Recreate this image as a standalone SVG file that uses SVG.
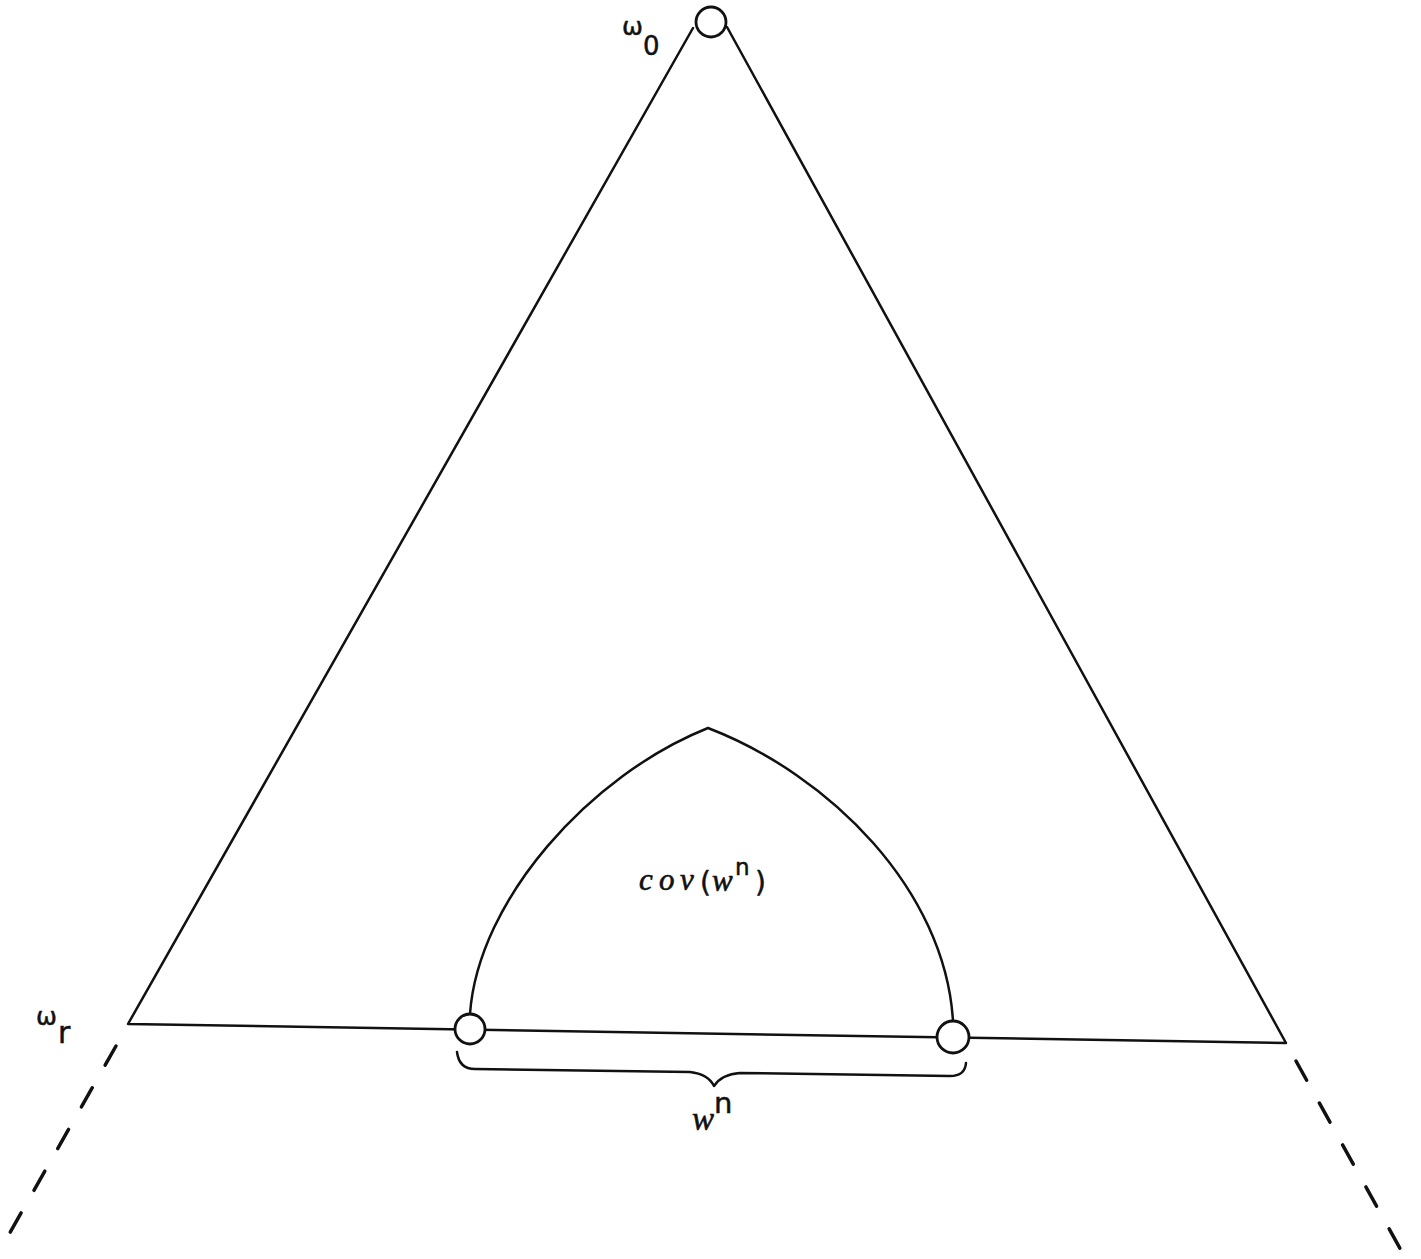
<svg xmlns="http://www.w3.org/2000/svg" width="1421" height="1259" viewBox="0 0 1421 1259">
<style>
.ln{fill:none;stroke:#111;stroke-width:2.5;stroke-linecap:round;stroke-linejoin:round}
.dash{fill:none;stroke:#111;stroke-width:3.5;stroke-dasharray:22 26;stroke-linecap:round}
.nd{fill:#fff;stroke:#111;stroke-width:2.8}
.sans{font-family:"DejaVu Sans","Liberation Sans",sans-serif;fill:#111;stroke:#111;stroke-width:0.5}
.it{font-family:"Liberation Serif",serif;font-style:italic;fill:#111;stroke:#111;stroke-width:0.6}
</style>
<rect width="1421" height="1259" fill="#fff"/>
<g id="connectors">
<path class="ln" d="M693,28 L128,1024 L1286,1043 L727,27"/>
<path class="dash" d="M116,1046 L8,1236"/>
<path class="dash" d="M1296,1061 L1402,1252"/>
<path class="ln" d="M470,1014 C478,900 590,775 708,728 C830,775 945,890 953,1021"/>
<path class="ln" d="M457,1052 Q459,1069 475,1069 L690,1072 Q708,1074 714,1086 Q722,1074 740,1073 L950,1076 Q965,1076 966,1063"/>
</g>
<g id="node-w0">
<circle class="nd" cx="711" cy="22" r="15"/>
<text class="sans" x="622" y="35" font-size="25">ω</text>
<text class="sans" x="643" y="55" font-size="26">0</text>
</g>
<g id="node-wr">
<text class="sans" x="36" y="1025" font-size="25">ω</text>
<text class="sans" x="58" y="1043" font-size="30">r</text>
</g>
<g id="node-left">
<circle class="nd" cx="470" cy="1029" r="15"/>
</g>
<g id="node-right">
<circle class="nd" cx="953" cy="1037" r="16"/>
</g>
<g id="label-cov">
<text class="it" x="639 659 680" y="890" font-size="31">cov</text>
<text class="sans" x="700" y="892" font-size="28">(</text>
<text class="it" x="712" y="891" font-size="31">w</text>
<text class="sans" x="735" y="875" font-size="23">n</text>
<text class="sans" x="755" y="892" font-size="28">)</text>
</g>
<g id="label-wn">
<text class="it" x="692" y="1130" font-size="33">w</text>
<text class="sans" x="714" y="1113" font-size="29">n</text>
</g>
</svg>
